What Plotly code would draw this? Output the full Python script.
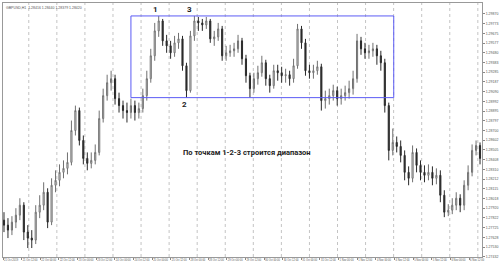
import plotly.graph_objects as go

close = [1.2775,1.2770,1.2778,1.2785,1.2795,1.2768,1.2762,1.2760,1.2788,1.2795,
         1.2808,1.2778,1.2815,1.2820,1.2828,1.2832,1.2838,1.2870,1.2890,1.2860,
         1.2842,1.2837,1.2840,1.2848,1.2882,1.2905,1.2918,1.2922,1.2902,1.2895,
         1.2890,1.2888,1.2895,1.2888,1.2892,1.2905,1.2922,1.2945,1.2970,1.2980,
         1.2960,1.2955,1.2948,1.2958,1.2962,1.2935,1.2910,1.2965,1.2980,1.2978,
         1.2976,1.2980,1.2962,1.2964,1.2972,1.2945,1.2948,1.2950,1.2952,1.2960,
         1.2942,1.2925,1.2912,1.2922,1.2928,1.2938,1.2922,1.2915,1.2930,1.2928,
         1.2925,1.2926,1.2922,1.2935,1.2972,1.2958,1.2930,1.2928,1.2930,1.2934,
         1.2900,1.2902,1.2905,1.2910,1.2902,1.2905,1.2908,1.2912,1.2922,1.2960,
         1.2952,1.2948,1.2950,1.2952,1.2945,1.2938,1.2895,1.2850,1.2858,1.2854,
         1.2845,1.2828,1.2822,1.2848,1.2835,1.2828,1.2825,1.2828,1.2822,1.2825,
         1.2805,1.2788,1.2790,1.2795,1.2802,1.2795,1.2815,1.2828,1.2850,1.2855,
         1.2842]
high = [1.2788,1.2782,1.2784,1.2792,1.2802,1.2798,1.2775,1.2770,1.2795,1.2805,
        1.2818,1.2812,1.2822,1.2830,1.2836,1.2840,1.2848,1.2880,1.2895,1.2893,
        1.2865,1.2848,1.2848,1.2856,1.2890,1.2912,1.2926,1.2930,1.2926,1.2908,
        1.2900,1.2898,1.2902,1.2900,1.2898,1.2912,1.2930,1.2952,1.2978,1.2985,
        1.2982,1.2966,1.2960,1.2965,1.2968,1.2965,1.2938,1.2970,1.2985,1.2984,
        1.2982,1.2984,1.2982,1.2970,1.2978,1.2975,1.2955,1.2956,1.2958,1.2966,
        1.2963,1.2946,1.2928,1.2928,1.2935,1.2945,1.2941,1.2926,1.2936,1.2936,
        1.2934,1.2932,1.2930,1.2942,1.2977,1.2975,1.2962,1.2936,1.2936,1.2940,
        1.2937,1.2910,1.2912,1.2916,1.2914,1.2912,1.2915,1.2920,1.2930,1.2967,
        1.2964,1.2958,1.2956,1.2958,1.2956,1.2950,1.2942,1.2898,1.2872,1.2864,
        1.2860,1.2850,1.2834,1.2855,1.2852,1.2840,1.2835,1.2836,1.2834,1.2832,
        1.2830,1.2810,1.2796,1.2802,1.2808,1.2806,1.2820,1.2835,1.2856,1.2860,
        1.2858]
low = [1.2768,1.2762,1.2765,1.2772,1.2780,1.2760,1.2752,1.2752,1.2756,1.2782,
       1.2790,1.2772,1.2775,1.2808,1.2814,1.2822,1.2826,1.2835,1.2865,1.2855,
       1.2836,1.2830,1.2832,1.2836,1.2845,1.2878,1.2900,1.2910,1.2896,1.2888,
       1.2882,1.2878,1.2882,1.2880,1.2882,1.2888,1.2900,1.2918,1.2940,1.2964,
       1.2955,1.2948,1.2942,1.2944,1.2952,1.2930,1.2903,1.2908,1.2960,1.2970,
       1.2970,1.2972,1.2958,1.2955,1.2960,1.2940,1.2940,1.2944,1.2944,1.2948,
       1.2936,1.2918,1.2903,1.2908,1.2916,1.2924,1.2915,1.2908,1.2912,1.2920,
       1.2918,1.2918,1.2915,1.2918,1.2932,1.2952,1.2925,1.2922,1.2922,1.2926,
       1.2890,1.2892,1.2896,1.2900,1.2895,1.2896,1.2900,1.2902,1.2906,1.2918,
       1.2946,1.2942,1.2942,1.2944,1.2936,1.2930,1.2888,1.2840,1.2845,1.2848,
       1.2838,1.2820,1.2815,1.2818,1.2828,1.2820,1.2818,1.2820,1.2815,1.2816,
       1.2798,1.2783,1.2784,1.2786,1.2790,1.2788,1.2790,1.2810,1.2824,1.2845,
       1.2836]
first_open = 1.2780
open_ = [first_open] + close[:-1]
bars = list(range(len(close)))

date_labels = ["21 Oct 2019","21 Oct 12:00","22 Oct 00:00","22 Oct 12:00","23 Oct 00:00",
               "23 Oct 12:00","24 Oct 00:00","24 Oct 12:00","25 Oct 00:00","25 Oct 12:00",
               "28 Oct 00:00","28 Oct 12:00","29 Oct 00:00","29 Oct 12:00","30 Oct 00:00",
               "30 Oct 12:00","31 Oct 00:00","31 Oct 12:00","1 Nov 00:00","1 Nov 12:00",
               "4 Nov 00:00","4 Nov 12:00","5 Nov 00:00","5 Nov 12:00","6 Nov 00:00","6 Nov 12:00"]
label_pos = [-0.25 + 4.7 * k for k in range(len(date_labels))]
grid_pos = [6.25 + 7.075 * k for k in range(17)]

price_ticks = [1.2987 - 0.000975 * k for k in range(26)]

range_box = dict(x0=32, x1=98.25, y0=1.2903, y1=1.2985)
points = [("1", 38.2, 1.29915), ("3", 46.8, 1.29915), ("2", 45.5, 1.28965)]
caption = "По точкам 1-2-3 строится диапазон"

fig = go.Figure()
fig.add_trace(go.Candlestick(
    x=bars, open=open_, high=high, low=low, close=close,
    increasing=dict(line=dict(color="#707070", width=1), fillcolor="#ffffff"),
    decreasing=dict(line=dict(color="#2a2a2a", width=1), fillcolor="#2a2a2a"),
    whiskerwidth=0, showlegend=False, hoverinfo="skip"))

for g in grid_pos:
    fig.add_shape(type="line", x0=g, x1=g, y0=0, y1=1, xref="x", yref="paper",
                  line=dict(color="#c4c4c4", width=1, dash="dot"), layer="below")

fig.add_shape(type="rect", xref="x", yref="y", **range_box,
              line=dict(color="#5b5bf5", width=1))

for t, xi, yi in points:
    fig.add_annotation(x=xi, y=yi, text="<b>" + t + "</b>", showarrow=False,
                       font=dict(family="Roboto", size=8, color="#222222"))
fig.add_annotation(x=61.3, y=1.2848, text="<b>" + caption + "</b>", showarrow=False,
                   font=dict(family="Roboto", size=7.5, color="#222222"))
fig.add_annotation(x=0.003, y=0.997, xref="paper", yref="paper", xanchor="left", yanchor="top",
                   text="GBPUSD,H1  1.28416 1.28440 1.28379 1.28420", showarrow=False,
                   font=dict(family="Liberation Sans", size=3.5, color="#555555"))

fig.update_layout(
    width=500, height=265, margin=dict(l=2, r=15, t=2, b=8),
    paper_bgcolor="white", plot_bgcolor="white", boxgap=0.6,
    xaxis=dict(range=[-0.25, 120.5], rangeslider=dict(visible=False), showgrid=False,
               zeroline=False, tickvals=label_pos, ticktext=date_labels, tickangle=0,
               ticklabelposition="outside right", ticks="outside", ticklen=2,
               tickcolor="#888", tickfont=dict(family="Liberation Sans", size=2.6, color="#555"),
               showline=True, linecolor="#999", linewidth=1, mirror=True),
    yaxis=dict(range=[1.2743, 1.2998], side="right", showgrid=False, zeroline=False,
               tickvals=price_ticks, ticktext=[f"{v:.5f}" for v in price_ticks],
               ticks="outside", ticklen=2, tickcolor="#888",
               tickfont=dict(family="Liberation Sans", size=3.5, color="#555"),
               showline=True, linecolor="#999", linewidth=1, mirror=True),
)
fig.write_html("out.html")
